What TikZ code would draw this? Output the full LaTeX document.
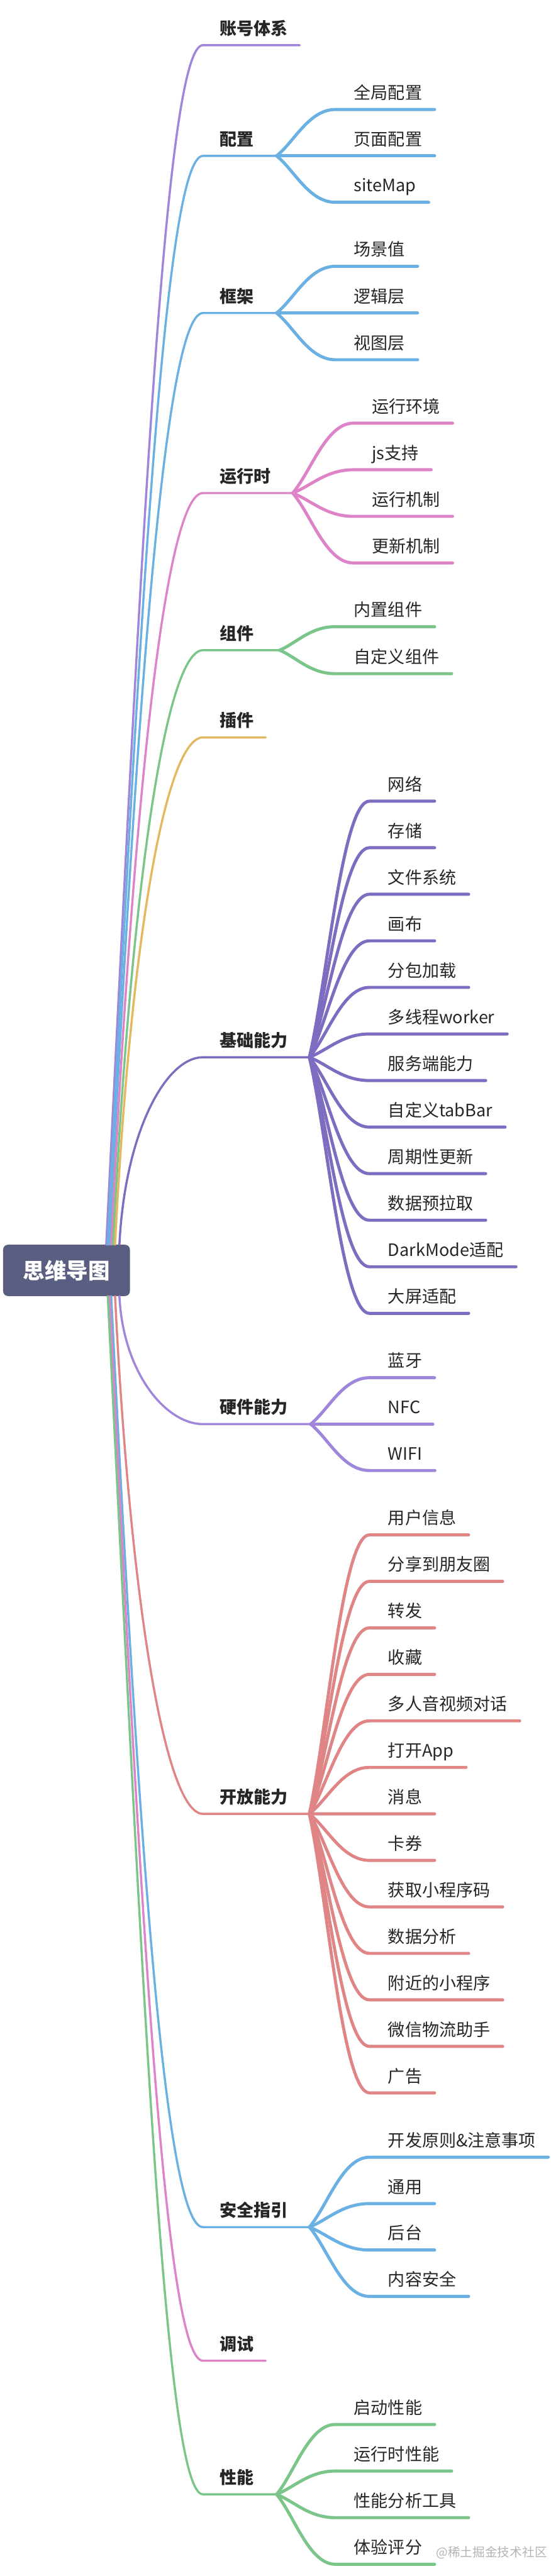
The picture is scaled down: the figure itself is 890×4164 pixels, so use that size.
\documentclass[tikz,border=0pt]{standalone}
\usepackage{fontspec}
\setmainfont{Noto Sans CJK SC}
\usetikzlibrary{calc}
\definecolor{cPur}{HTML}{A086DA}
\definecolor{cBlue}{HTML}{6BB0E2}
\definecolor{cPink}{HTML}{DD84C8}
\definecolor{cGreen}{HTML}{7BC48A}
\definecolor{cYel}{HTML}{E2B960}
\definecolor{cDeep}{HTML}{7E6CC1}
\definecolor{cRed}{HTML}{E08586}
\definecolor{cRoot}{HTML}{5A5F82}
\definecolor{cTxt}{HTML}{262626}
\definecolor{cMark}{HTML}{B4B4B4}

\newcommand\kids[8]{%
 \foreach \lab [count=\i from 0] in {#8} {%
  \pgfmathsetmacro\yy{#5+#6*\i}%
  \pgfmathsetmacro\kdy{\yy-#4}%
  \pgfmathsetmacro\kdx{#7-30-#3}%
  \coordinate (#1s\i) at (#7-30,\yy);
  \node[leaf] (#1\i) at (#7,\yy-17) {\lab};
  \draw[twig,#2] (#1f) .. controls +(0.3*\kdx,0.3*\kdy) and +(-0.45*\kdx,0) .. (#1s\i) -- ($(#1\i.base east)+(20,17)$);
 }}

\begin{document}
\begin{tikzpicture}[x=1pt,y=-1pt,line cap=round,line join=round,
  leaf/.style={anchor=base west,inner sep=0pt,text=cTxt,font=\fontsize{27.5}{33}\selectfont},
  lvone/.style={anchor=base west,inner sep=0pt,text=cTxt,font=\fontsize{27.5}{33}\selectfont\bfseries},
  rootbox/.style={fill=cRoot,rounded corners=8pt,minimum width=205pt,minimum height=83pt,inner sep=0pt,text=white,font=\fontsize{35}{40}\selectfont\bfseries},
  wmark/.style={anchor=west,inner sep=0pt,text=cMark,font=\fontsize{20}{24}\selectfont},
  trunk/.style={line width=3.5pt},
  twig/.style={line width=5pt}]
\useasboundingbox (0,0) rectangle (890,4164);

\node[rootbox] (root) at (107.5,2053.5) {思维导图};

% level-1 labels
\node[lvone] (A) at (355,56) {账号体系};
\node[lvone] (B) at (355,235) {配置};
\node[lvone] (C) at (355,489) {框架};
\node[lvone] (D) at (355,780) {运行时};
\node[lvone] (E) at (355,1034) {组件};
\node[lvone] (F) at (355,1175) {插件};
\node[lvone] (G) at (355,1692) {基础能力};
\node[lvone] (H) at (355,2285) {硬件能力};
\node[lvone] (I) at (355,2915) {开放能力};
\node[lvone] (J) at (355,3583) {安全指引};
\node[lvone] (K) at (355,3799) {调试};
\node[lvone] (L) at (355,4015) {性能};

% line starts and forks
\coordinate (Al) at (328,73);
\coordinate (Bl) at (328,252);   \coordinate (Bf) at (447,252);
\coordinate (Cl) at (328,506);   \coordinate (Cf) at (447,506);
\coordinate (Dl) at (328,797);   \coordinate (Df) at (473,797);
\coordinate (El) at (328,1051);  \coordinate (Ef) at (452,1051);
\coordinate (Fl) at (328,1192);
\coordinate (Gl) at (328,1709);  \coordinate (Gf) at (500,1709);
\coordinate (Hl) at (328,2302);  \coordinate (Hf) at (502,2302);
\coordinate (Il) at (328,2932);  \coordinate (If) at (500,2932);
\coordinate (Jl) at (328,3600);  \coordinate (Jf) at (500,3600);
\coordinate (Kl) at (328,3816);
\coordinate (Ll) at (328,4032);  \coordinate (Lf) at (447,4032);

% trunk connectors
\draw[trunk,cPur]   (root.33) .. controls +(58,-1163) and +(-60,0) .. (Al) -- ($(A.base east)+(19,17)$);
\draw[trunk,cBlue]  (root.32) .. controls +(53,-1056) and +(-60,0) .. (Bl) -- (Bf);
\draw[trunk,cBlue]  (root.31) .. controls +(45,-904) and +(-60,0) .. (Cl) -- (Cf);
\draw[trunk,cPink]  (root.30) .. controls +(36,-729) and +(-60,0) .. (Dl) -- (Df);
\draw[trunk,cGreen] (root.29) .. controls +(29,-577) and +(-60,0) .. (El) -- (Ef);
\draw[trunk,cYel]   (root.28) .. controls +(25,-492) and +(-60,0) .. (Fl) -- ($(F.base east)+(19,17)$);
\draw[trunk,cDeep]  (root.26) .. controls +(9,-182) and +(-60,0) .. (Gl) -- (Gf);
\draw[trunk,cPur]   (root.-26) .. controls +(6,124) and +(-60,0) .. (Hl) -- (Hf);
\draw[trunk,cRed]   (root.-28) .. controls +(25,502) and +(-60,0) .. (Il) -- (If);
\draw[trunk,cBlue]  (root.-30) .. controls +(45,903) and +(-60,0) .. (Jl) -- (Jf);
\draw[trunk,cPink]  (root.-31) .. controls +(52,1033) and +(-60,0) .. (Kl) -- ($(K.base east)+(19,17)$);
\draw[trunk,cGreen] (root.-32) .. controls +(58,1162) and +(-60,0) .. (Ll) -- (Lf);

% children
\kids{B}{cBlue}{447}{252}{177}{75}{572}{全局配置,页面配置,siteMap}
\kids{C}{cBlue}{447}{506}{430.5}{75.5}{572}{场景值,逻辑层,视图层}
\kids{D}{cPink}{473}{797}{684}{75.33}{601}{运行环境,js支持,运行机制,更新机制}
\kids{E}{cGreen}{452}{1051}{1013}{76}{572}{内置组件,自定义组件}
\kids{G}{cDeep}{500}{1709}{1295}{75.27}{627}{网络,存储,文件系统,画布,分包加载,多线程worker,服务端能力,自定义tabBar,周期性更新,数据预拉取,DarkMode适配,大屏适配}
\kids{H}{cPur}{502}{2302}{2227}{75}{627}{蓝牙,NFC,WIFI}
\kids{I}{cRed}{500}{2932}{2481}{75.17}{627}{用户信息,分享到朋友圈,转发,收藏,多人音视频对话,打开App,消息,卡券,获取小程序码,数据分析,附近的小程序,微信物流助手,广告}
\kids{J}{cBlue}{500}{3600}{3487}{75}{627}{开发原则\&注意事项,通用,后台,内容安全}
\kids{L}{cGreen}{447}{4032}{3919}{75.33}{572}{启动性能,运行时性能,性能分析工具,体验评分}

\node[wmark] (wm) at (705,4126) {@稀土掘金技术社区};
\end{tikzpicture}
\end{document}
